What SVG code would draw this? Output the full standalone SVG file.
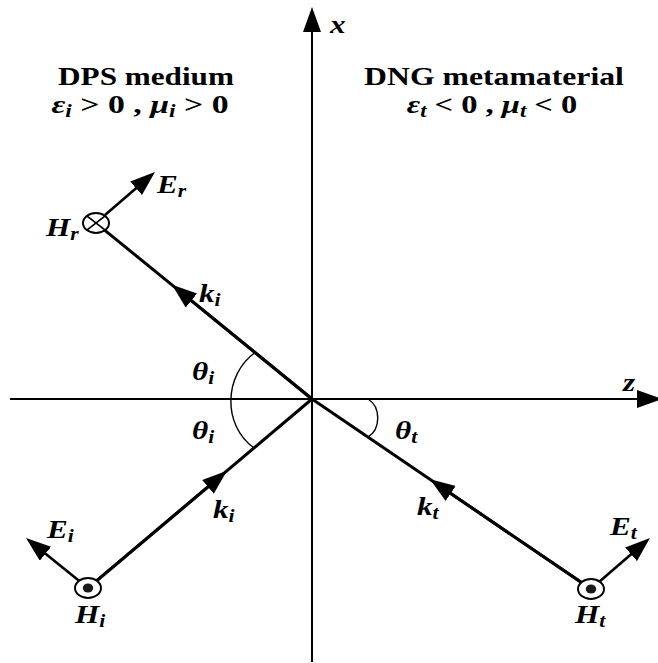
<svg xmlns="http://www.w3.org/2000/svg" width="658" height="663" viewBox="0 0 658 663">
<style>
text{font-family:"Liberation Serif","Times New Roman",serif;font-weight:bold;fill:#000}
.sym{font-style:italic;font-size:26px}
.hdr{font-size:26px}
.it{font-style:italic}
.sub{font-style:italic;font-size:18px}
.axis{stroke:#000;stroke-width:2;fill:none}
.ray{stroke:#000;stroke-width:3;fill:none}
.efield{stroke:#000;stroke-width:2.6;fill:none}
.arc{stroke:#000;stroke-width:1.4;fill:none}
.ring{stroke:#000;stroke-width:2;fill:#fff}
</style>
<defs>
<marker id="ah" viewBox="0 0 25 18" refX="15" refY="9" markerWidth="25" markerHeight="18" markerUnits="userSpaceOnUse" orient="auto">
<path d="M0,0 L25,9 L0,18 z" fill="#000"/>
</marker>
</defs>
<rect width="658" height="663" fill="#fff"/>
<g id="axes">
<line class="axis" x1="312" y1="662" x2="312" y2="17" marker-end="url(#ah)"/>
<line class="axis" x1="10" y1="399" x2="652" y2="399" marker-end="url(#ah)"/>
</g>
<g id="connectors">
<line class="ray" x1="312" y1="399" x2="104.9" y2="230.3"/>
<line class="ray" x1="312" y1="399" x2="179.75" y2="291.1" marker-end="url(#ah)"/>
<line class="ray" x1="96.8" y1="580.6" x2="312" y2="399"/>
<line class="ray" x1="96.8" y1="580.6" x2="219.4" y2="477.3" marker-end="url(#ah)"/>
<line class="ray" x1="581.5" y1="582.5" x2="312" y2="399"/>
<line class="ray" x1="581.5" y1="582.5" x2="438.3" y2="485" marker-end="url(#ah)"/>
<line class="efield" x1="105" y1="215" x2="147.4" y2="178.5" marker-end="url(#ah)"/>
<line class="efield" x1="79" y1="580.8" x2="33.8" y2="544.3" marker-end="url(#ah)"/>
<line class="efield" x1="599.6" y1="581.5" x2="642.4" y2="544.5" marker-end="url(#ah)"/>
<path class="arc" d="M255,352.5 C224,375 222,425 254,448"/>
<path class="arc" d="M368,399 C381,407 381,429 368,437"/>
</g>
<g id="node-Hr">
<ellipse class="ring" cx="96" cy="223" rx="13" ry="10"/>
<line x1="86.8" y1="215.9" x2="105.2" y2="230.1" stroke="#000" stroke-width="1.8"/>
<line x1="86.8" y1="230.1" x2="105.2" y2="215.9" stroke="#000" stroke-width="1.8"/>
</g>
<g id="node-Hi">
<ellipse class="ring" cx="88" cy="588" rx="13" ry="10"/>
<ellipse cx="88" cy="588" rx="5.2" ry="4.6" fill="#1a1a1a"/>
</g>
<g id="node-Ht">
<ellipse class="ring" cx="591" cy="589" rx="13" ry="10"/>
<ellipse cx="591" cy="589" rx="5.2" ry="4.6" fill="#1a1a1a"/>
</g>
<g id="labels">
<text class="sym" transform="translate(330,33) scale(1.2,1)">x</text>
<text class="sym" transform="translate(623,391) scale(1.2,1)">z</text>
<text class="hdr" text-anchor="middle" transform="translate(146,85) scale(1.2,1)">DPS medium</text>
<text class="hdr" text-anchor="middle" transform="translate(494,85) scale(1.22,1)">DNG metamaterial</text>
<text class="hdr" text-anchor="middle" transform="translate(140,113) scale(1.3,1)"><tspan class="it">ε</tspan><tspan class="sub" dy="4">i</tspan><tspan dy="-4"> &gt; 0 , </tspan><tspan class="it">μ</tspan><tspan class="sub" dy="4">i</tspan><tspan dy="-4"> &gt; 0</tspan></text>
<text class="hdr" text-anchor="middle" transform="translate(492,113) scale(1.25,1)"><tspan class="it">ε</tspan><tspan class="sub" dy="4">t</tspan><tspan dy="-4"> &lt; 0 , </tspan><tspan class="it">μ</tspan><tspan class="sub" dy="4">t</tspan><tspan dy="-4"> &lt; 0</tspan></text>
<text class="sym" transform="translate(157,193) scale(1.2,1)">E<tspan class="sub" dy="4">r</tspan></text>
<text class="sym" transform="translate(46,236) scale(1.2,1)">H<tspan class="sub" dy="4">r</tspan></text>
<text class="sym" transform="translate(199,302) scale(1.2,1)">k<tspan class="sub" dy="4">i</tspan></text>
<text class="sym" transform="translate(192,380) scale(1.2,1)">θ<tspan class="sub" dy="4">i</tspan></text>
<text class="sym" transform="translate(192,439) scale(1.2,1)">θ<tspan class="sub" dy="4">i</tspan></text>
<text class="sym" transform="translate(395,439) scale(1.2,1)">θ<tspan class="sub" dy="4">t</tspan></text>
<text class="sym" transform="translate(213,518) scale(1.2,1)">k<tspan class="sub" dy="4">i</tspan></text>
<text class="sym" transform="translate(417,515) scale(1.2,1)">k<tspan class="sub" dy="4">t</tspan></text>
<text class="sym" transform="translate(47,538) scale(1.2,1)">E<tspan class="sub" dy="4">i</tspan></text>
<text class="sym" transform="translate(75,623) scale(1.2,1)">H<tspan class="sub" dy="4">i</tspan></text>
<text class="sym" transform="translate(610,535) scale(1.2,1)">E<tspan class="sub" dy="4">t</tspan></text>
<text class="sym" transform="translate(575,623) scale(1.2,1)">H<tspan class="sub" dy="4">t</tspan></text>
</g>
</svg>
